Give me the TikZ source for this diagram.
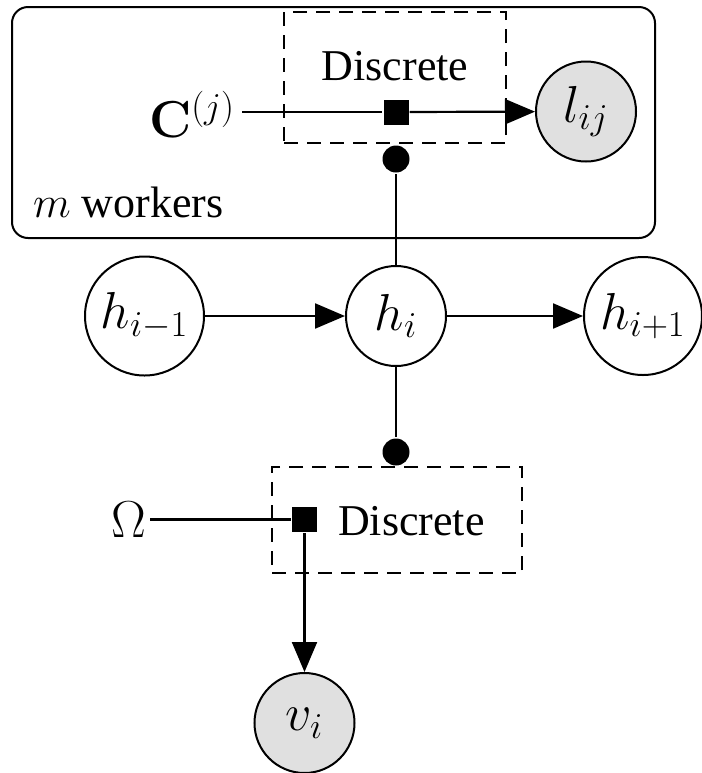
\RequirePackage{fix-cm}
\documentclass[tikz,border=0pt]{standalone}
\usepackage[no-math]{fontspec}
\setmainfont{Liberation Serif}
\usetikzlibrary{arrows.meta}
\begin{document}
\begin{tikzpicture}[x=0.5pt,y=-0.5pt,
  line width=1.1pt,
  var/.style={circle,draw,line width=1pt,inner sep=0pt,font=\fontsize{26}{30}\selectfont},
  obs/.style={var,fill=black!12},
  factorsq/.style={rectangle,fill=black,inner sep=0pt,minimum size=12.5pt},
  knob/.style={circle,fill=black,inner sep=0pt,minimum size=13.5pt},
  dashedbox/.style={draw,dash pattern=on 7pt off 4.5pt,line width=1pt,inner sep=0pt},
  txt/.style={font=\fontsize{22}{26}\selectfont,inner sep=0pt},
  mtxt/.style={font=\fontsize{26}{30}\selectfont,inner sep=0pt},
  vline/.style={line width=1.4pt},
  arr/.style={-{Triangle[length=15pt,width=12.5pt]}}]
\useasboundingbox (0,0) rectangle (702,773);
% plate
\node[draw,rounded corners=8pt,line width=1pt,minimum width=321.5pt,minimum height=115.5pt,inner sep=0pt] (plate) at (333.5,122.5) {};
\node[txt,anchor=base west] (mw) at (32,217) {$m$ workers};
% top factor
\node[dashedbox,minimum width=111pt,minimum height=65.5pt] (box1) at (395,77.5) {};
\node[txt,anchor=base] (d1) at (395,80) {Discrete};
\node[factorsq] (f1) at (396,112) {};
\node[mtxt,anchor=base east] (C) at (236,137) {$\mathbf{C}^{(j)}$};
\node[obs,minimum size=50pt] (l) at (586,111.5) {$l_{ij}$};
\node[knob] (k1) at (396,159) {};
% chain
\node[var,minimum size=59.5pt] (hp) at (144.5,316) {$h_{i-1}$};
\node[var,minimum size=50pt] (h) at (396,316) {$h_i$};
\node[var,minimum size=59pt] (hn) at (643,316) {$h_{i+1}$};
% bottom factor
\node[knob] (k2) at (396,452) {};
\node[dashedbox,minimum width=125pt,minimum height=53pt] (box2) at (397,520) {};
\node[factorsq] (f2) at (304.5,519.5) {};
\node[txt,anchor=base west] (d2) at (337,535) {Discrete};
\node[mtxt,anchor=base east] (om) at (147,537) {$\Omega$};
\node[obs,minimum size=50pt] (v) at (304.5,723) {$v_i$};
% edges
\path (C.east |- f1) ++(6,0) coordinate (cs);
\draw (cs) -- (f1);
\draw[arr] (f1) -- (l);
\draw[vline] (h.north) -- (k1.south);
\draw[vline] (h.south) -- (k2.north);
\draw[arr] (hp) -- (h);
\draw[arr] (h) -- (hn);
\path (om.east |- f2) ++(3,0) coordinate (os);
\draw (os) -- (f2);
\draw[arr] (f2) -- (v);
\end{tikzpicture}
\end{document}
